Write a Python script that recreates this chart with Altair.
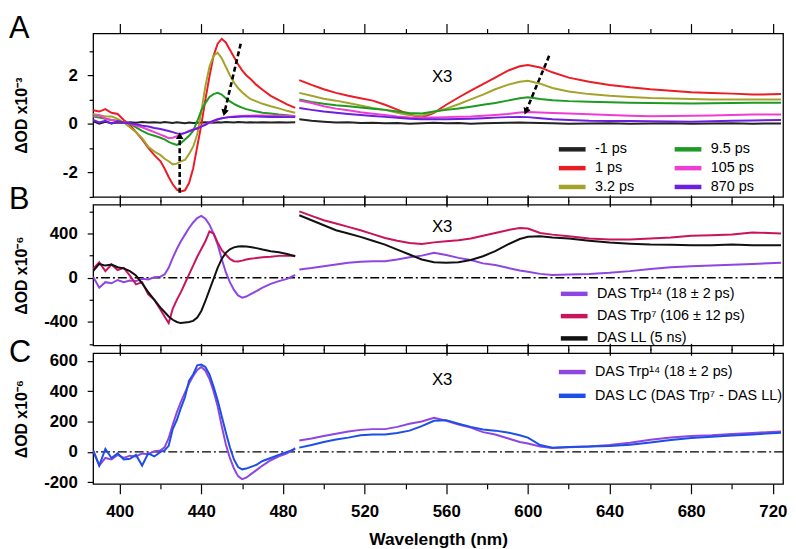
import math
import altair as alt
import pandas as pd

FONT = "Liberation Sans"

# wavelength grids (nm): blue-side segment and x3-scaled red-side segment
WL_L = [387, 390, 393, 396, 399, 402, 405, 408, 411, 414,
        417, 420, 422, 424, 426, 428, 430, 432, 434, 436,
        438, 440, 442, 444, 446, 448, 450, 452, 454, 456,
        458, 460, 462, 464, 467, 470, 474, 478, 482, 486]
WL_R = [488, 494, 500, 506, 512, 518, 524, 530, 536, 542,
        548, 554, 560, 566, 572, 578, 584, 590, 596, 600,
        606, 612, 620, 630, 640, 650, 660, 670, 680, 690,
        700, 710, 724]

# ---- Panel A (x10^-3) ----
A_NAMES = ["-1 ps", "1 ps", "3.2 ps", "9.5 ps", "105 ps", "870 ps"]
A_M1_L = [0.1, 0.0, 0.08, 0.02, 0.05, 0.03, 0.06, 0.04, 0.07, 0.05,
          0.06, 0.04, 0.07, 0.05, 0.03, 0.06, 0.04, 0.02, 0.05, 0.03,
          0.04, 0.05, 0.06, 0.05, 0.04, 0.06, 0.05, 0.07, 0.06, 0.05,
          0.07, 0.06, 0.05, 0.06, 0.05, 0.06, 0.05, 0.06, 0.05, 0.06]
A_M1_R = [0.18, 0.12, 0.08, 0.05, 0.06, 0.03, 0.04, 0.02, 0.03, 0.0,
          0.02, 0.04, 0.02, 0.03, 0.0, 0.02, 0.03, 0.04, 0.05, 0.04,
          0.03, 0.02, 0.0, 0.01, 0.02, 0.0, 0.01, 0.02, 0.0, 0.01,
          0.02, 0.0, 0.01]
A_1_L = [0.55, 0.5, 0.6, 0.45, 0.4, 0.15, -0.05, -0.35, -0.65, -1.0,
         -1.3, -1.55, -1.85, -2.2, -2.5, -2.72, -2.8, -2.75, -2.45, -1.85,
         -0.95, -0.05, 0.99, 1.95, 2.8, 3.3, 3.5, 3.35, 3.05, 2.75,
         2.45, 2.2, 2.0, 1.85, 1.6, 1.4, 1.15, 0.97, 0.8, 0.65]
A_1_R = [1.8, 1.6, 1.42, 1.27, 1.15, 1.05, 0.95, 0.78, 0.58, 0.38,
         0.26, 0.45, 0.78, 1.08, 1.36, 1.63, 1.9, 2.18, 2.37, 2.42,
         2.32, 2.12, 1.9, 1.73, 1.6, 1.5, 1.42, 1.36, 1.3, 1.27,
         1.24, 1.2, 1.22]
A_32_L = [0.4, 0.35, 0.3, 0.3, 0.2, 0.05, -0.15, -0.35, -0.6, -0.95,
          -1.15, -1.3, -1.45, -1.55, -1.68, -1.65, -1.55, -1.5, -1.25, -0.95,
          -0.45, 0.5, 1.55, 2.35, 2.8, 2.93, 2.7, 2.35, 2.0, 1.7,
          1.47, 1.3, 1.15, 1.02, 0.92, 0.82, 0.72, 0.63, 0.53, 0.45]
A_32_R = [1.27, 1.15, 1.03, 0.95, 0.85, 0.75, 0.65, 0.57, 0.45, 0.35,
          0.33, 0.48, 0.62, 0.8, 1.0, 1.2, 1.42, 1.6, 1.73, 1.77,
          1.65, 1.47, 1.33, 1.22, 1.15, 1.1, 1.06, 1.04, 1.02, 1.0,
          1.0, 1.0, 1.0]
A_95_L = [0.3, 0.25, 0.2, 0.15, 0.12, 0.05, 0.0, -0.15, -0.3, -0.42,
          -0.5, -0.58, -0.65, -0.75, -0.82, -0.88, -0.8, -0.65, -0.5, -0.3,
          0.1, 0.55, 0.85, 1.1, 1.22, 1.27, 1.2, 1.05, 0.92, 0.82,
          0.73, 0.66, 0.6, 0.56, 0.5, 0.45, 0.42, 0.38, 0.35, 0.31]
A_95_R = [1.0, 0.9, 0.82, 0.76, 0.72, 0.67, 0.62, 0.57, 0.5, 0.44,
          0.42, 0.5, 0.57, 0.63, 0.7, 0.78, 0.85, 0.95, 1.05, 1.09,
          1.02, 0.97, 0.93, 0.9, 0.88, 0.86, 0.85, 0.84, 0.83, 0.84,
          0.85, 0.86, 0.86]
A_105_L = [0.3, 0.35, 0.2, 0.15, 0.1, 0.05, 0.0, -0.08, -0.15, -0.25,
           -0.35, -0.45, -0.52, -0.6, -0.58, -0.52, -0.45, -0.38, -0.3, -0.24,
           -0.18, -0.1, -0.03, 0.04, 0.1, 0.17, 0.22, 0.25, 0.28, 0.3,
           0.31, 0.32, 0.33, 0.33, 0.34, 0.34, 0.33, 0.33, 0.32, 0.31]
A_105_R = [0.95, 0.85, 0.72, 0.62, 0.55, 0.47, 0.41, 0.36, 0.3, 0.26,
           0.24, 0.25, 0.27, 0.29, 0.3, 0.33, 0.36, 0.4, 0.46, 0.48,
           0.46, 0.44, 0.42, 0.39, 0.36, 0.33, 0.31, 0.32, 0.33, 0.34,
           0.36, 0.38, 0.38]
A_870_L = [0.15, 0.05, 0.12, 0.0, 0.1, 0.05, 0.02, -0.02, -0.08, -0.12,
           -0.18, -0.22, -0.26, -0.3, -0.35, -0.4, -0.42, -0.38, -0.32, -0.25,
           -0.2, -0.12, -0.05, 0.05, 0.12, 0.18, 0.22, 0.25, 0.27, 0.28,
           0.29, 0.3, 0.3, 0.3, 0.3, 0.29, 0.28, 0.28, 0.27, 0.27]
A_870_R = [0.65, 0.57, 0.5, 0.45, 0.4, 0.36, 0.32, 0.28, 0.24, 0.2,
           0.18, 0.18, 0.18, 0.19, 0.2, 0.22, 0.25, 0.27, 0.28, 0.27,
           0.22, 0.18, 0.15, 0.12, 0.11, 0.11, 0.1, 0.09, 0.08, 0.1,
           0.12, 0.13, 0.15]
A_COLORS = ["#222222", "#ec1c24", "#a3a32c", "#1e9a22", "#f03cd4", "#6c1fe0"]

# dashed arrows (panel A)
ARROW_X0 = [429.4, 459.3, 610.4]
ARROW_Y0 = [-2.85, 3.3, 2.8]
ARROW_X1 = [429.4, 451.3, 599.0]
ARROW_Y1 = [-0.5, 0.45, 0.5]

# ---- Panel B (x10^-6) ----
TRP14 = "DAS Trp\u00b9\u2074 (18 \u00b1 2 ps)"
TRP7 = "DAS Trp\u2077 (106 \u00b1 12 ps)"
LL = "DAS LL (5 ns)"
LC = "DAS LC (DAS Trp\u2077 - DAS LL)"
B_TRP14_L = [10, -90, -40, -50, -20, -40, -25, -30, -10, -15,
             5, 10, 30, 90, 180, 260, 330, 390, 450, 500,
             540, 560, 535, 480, 400, 300, 170, 50, -40, -110,
             -160, -180, -170, -150, -120, -90, -55, -30, -10, 25]
B_TRP14_R = [75, 88, 105, 120, 135, 145, 150, 150, 165, 185,
             200, 225, 205, 180, 160, 130, 115, 90, 65, 55,
             35, 25, 30, 35, 45, 60, 80, 95, 105, 110,
             118, 125, 135]
B_TRP7_L = [80, 140, 60, 120, 70, 90, 20, -60, -40, -150,
            -200, -290, -350, -410, -280, -200, -130, -50, 30, 110,
            190, 260, 330, 420, 400, 320, 250, 210, 170, 150,
            148, 155, 165, 172, 178, 185, 190, 198, 200, 200]
B_TRP7_R = [600, 560, 520, 490, 460, 430, 395, 360, 335, 315,
            305, 320, 330, 340, 355, 380, 405, 430, 450, 445,
            405, 390, 375, 355, 345, 345, 355, 365, 380, 385,
            392, 410, 400]
B_LL_L = [60, 125, 110, 120, 95, 85, 60, 20, -50, -130,
          -200, -270, -310, -350, -380, -400, -410, -405, -400, -390,
          -360, -300, -210, -110, -10, 90, 170, 225, 258, 275,
          282, 285, 282, 278, 268, 255, 240, 230, 215, 195]
B_LL_R = [565, 520, 475, 430, 400, 370, 335, 300, 255, 210,
          165, 140, 135, 140, 160, 195, 240, 300, 350, 370,
          375, 365, 355, 335, 318, 308, 300, 298, 295, 295,
          300, 295, 295]
B_COLORS = ["#8e46e2", "#c8145c", "#111111"]

# ---- Panel C (x10^-6) ----
C_LC_L = [10, -90, 20, -40, -10, -50, -45, -20, -90, -10,
          -30, 0, 10, 40, 150, 210, 290, 360, 470, 510,
          570, 575, 560, 510, 430, 340, 235, 130, 30, -50,
          -100, -115, -110, -100, -85, -60, -40, -20, 0, 18]
C_LC_R = [28, 45, 65, 82, 94, 110, 115, 115, 125, 140,
          170, 205, 209, 185, 165, 148, 140, 128, 110, 94,
          45, 28, 32, 35, 39, 47, 62, 78, 92, 100,
          108, 115, 126]
C_COLORS = ["#8e46e2", "#1d4ee6"]

PANEL_LABELS = ["A", "B", "C"]
X3_WL = 558
X3_Y = [1.92, 463, 474]

X_DOMAIN = [387, 725]
W = 697
HA, HB, HC = 165, 142, 132
YA_DOM = [-3.02, 3.72]
YB_DOM = [-611, 660]
YC_DOM = [-211, 650]


def make_df(names, lefts, rights):
    rows = []
    for n, l, r in zip(names, lefts, rights):
        for w, v in zip(WL_L, l):
            rows.append(dict(wl=w, v=v, s=n, seg="L"))
        for w, v in zip(WL_R, r):
            rows.append(dict(wl=w, v=v, s=n, seg="R"))
    return pd.DataFrame(rows)


XS = alt.Scale(domain=X_DOMAIN, nice=False, zero=False)
X_TICKS = list(range(400, 721, 20))
X_MAJOR = "datum.value % 40 === 0"


def x_axis(orient, labels, title=None):
    return alt.Axis(orient=orient, values=X_TICKS,
                    tickSize={"condition": {"test": X_MAJOR, "value": 10}, "value": 5},
                    labels=labels, labelExpr=f"{X_MAJOR} ? '' + datum.value : ''",
                    labelFont=FONT, labelFontSize=17, labelFontWeight="bold",
                    labelColor="black", labelPadding=10, labelOverlap=False,
                    labelFlush=False, grid=False, domain=False,
                    tickColor="black", tickWidth=1.2, title=title,
                    titleFont=FONT, titleFontSize=17.5, titleFontWeight="bold",
                    titleColor="black", titlePadding=11)


def y_axis(values, test, title, h):
    return alt.Axis(values=values,
                    tickSize={"condition": {"test": test, "value": 6}, "value": 4},
                    labelExpr=f"{test} ? '' + datum.value : ''",
                    labelFont=FONT, labelFontSize=17, labelFontWeight="bold",
                    labelColor="black", labelPadding=10, labelOverlap=False,
                    labelFlush=False, grid=False, domain=False,
                    tickColor="black", tickWidth=1.2,
                    title=title, titleX=-72, titleY=h / 2, titleAngle=270,
                    titleBaseline="middle", titleAlign="center",
                    titleFont=FONT, titleFontSize=16, titleFontWeight="bold",
                    titleColor="black")


# a short horizontal stroke drawn wider than its 15 px layout slot
LEGEND_SYMBOL = "M-1.8,0H1.8"


def legend(x, y, row_pad, cols=None, col_pad=0):
    kw = dict(orient="none", legendX=x, legendY=y, title=None,
              symbolType=LEGEND_SYMBOL, symbolSize=225, symbolStrokeWidth=4.5,
              symbolFillColor="transparent",
              labelFont=FONT, labelFontSize=14.5, labelColor="black",
              labelOffset=13, rowPadding=row_pad, padding=0, labelLimit=400)
    if cols:
        kw["columns"] = cols
        kw["columnPadding"] = col_pad
    return alt.Legend(**kw)


def panel(df, ydom, yax, h, color_dom, colors, leg, letter, letter_y,
          x3y, bottom_labels, bottom_title, extra=None, zero=False):
    ys = alt.Scale(domain=ydom, nice=False, zero=False)
    layers = []
    if zero:
        layers.append(alt.Chart(pd.DataFrame({"z": [0]})).mark_rule(
            color="black", strokeWidth=1.4, strokeDash=[9, 3, 2, 3]).encode(
            y=alt.Y("z:Q", scale=ys, axis=yax)))
    layers.append(alt.Chart(df).mark_line(strokeWidth=2, clip=True).encode(
        x=alt.X("wl:Q", scale=XS, axis=x_axis("bottom", bottom_labels, bottom_title)),
        y=alt.Y("v:Q", scale=ys, axis=yax),
        color=alt.Color("s:N", scale=alt.Scale(domain=color_dom, range=colors), legend=leg),
        detail="seg:N"))
    if extra is not None:
        layers.extend(extra(ys, yax))
    layers.append(alt.Chart(pd.DataFrame({"x": [X3_WL], "y": [x3y], "t": ["X3"]})).mark_text(
        font=FONT, fontSize=17, color="black").encode(
        x=alt.X("x:Q", scale=XS, axis=x_axis("top", False)),
        y=alt.Y("y:Q", scale=ys, axis=yax), text="t:N"))
    layers.append(alt.Chart(pd.DataFrame({"t": [letter]})).mark_text(
        font=FONT, fontSize=31, align="left", baseline="alphabetic", color="black").encode(
        x=alt.value(-85), y=alt.value(letter_y), text="t:N"))
    return alt.layer(*layers).resolve_axis(x="independent").properties(width=W, height=h)


dfA = make_df(A_NAMES, [A_M1_L, A_1_L, A_32_L, A_95_L, A_105_L, A_870_L],
              [A_M1_R, A_1_R, A_32_R, A_95_R, A_105_R, A_870_R])
dfB = make_df([TRP14, TRP7, LL], [B_TRP14_L, B_TRP7_L, B_LL_L],
              [B_TRP14_R, B_TRP7_R, B_LL_R])
dfC = make_df([TRP14, LC], [B_TRP14_L, C_LC_L], [B_TRP14_R, C_LC_R])

px_x = W / (X_DOMAIN[1] - X_DOMAIN[0])
px_y = HA / (YA_DOM[1] - YA_DOM[0])
angles = []
for x0, y0, x1, y1 in zip(ARROW_X0, ARROW_Y0, ARROW_X1, ARROW_Y1):
    dx = (x1 - x0) * px_x
    dys = -(y1 - y0) * px_y
    angles.append(math.degrees(math.atan2(dx, -dys)) % 360)
df_arrows = pd.DataFrame({"x0": ARROW_X0, "y0": ARROW_Y0, "x1": ARROW_X1,
                          "y1": ARROW_Y1, "ang": angles})


def arrows(ys, yax):
    rules = alt.Chart(df_arrows).mark_rule(color="black", strokeWidth=2.6,
                                           strokeDash=[5, 3]).encode(
        x=alt.X("x0:Q", scale=XS, axis=None), x2="x1:Q",
        y=alt.Y("y0:Q", scale=ys, axis=yax), y2="y1:Q")
    heads = alt.Chart(df_arrows).mark_point(shape="triangle-up", filled=True,
                                            size=60, color="black", opacity=1).encode(
        x=alt.X("x1:Q", scale=XS, axis=None),
        y=alt.Y("y1:Q", scale=ys, axis=yax),
        angle=alt.Angle("ang:Q", scale=None))
    return [rules, heads]


yA = y_axis([-3, -2, -1, 0, 1, 2, 3], "datum.value % 2 === 0", "\u0394OD x10\u207b\u00b3", HA)
yB = y_axis([-600, -400, -200, 0, 200, 400, 600], "datum.value % 400 === 0",
            "\u0394OD x10\u207b\u2076", HB)
yC = y_axis([-200, 0, 200, 400, 600], "datum.value % 200 === 0",
            "\u0394OD x10\u207b\u2076", HC)

pA = panel(dfA, YA_DOM, yA, HA, A_NAMES, A_COLORS,
           legend(474, 107, -0.5, cols=2, col_pad=31), PANEL_LABELS[0], 5, X3_Y[0],
           False, None, extra=arrows)
pB = panel(dfB, YB_DOM, yB, HB, [TRP14, TRP7, LL], B_COLORS,
           legend(476, 80, 3.5), PANEL_LABELS[1], 4, X3_Y[1], False, None, zero=True)
pC = panel(dfC, YC_DOM, yC, HC, [TRP14, LC], C_COLORS,
           legend(474, 9, 5), PANEL_LABELS[2], 9, X3_Y[2], True,
           "Wavelength (nm)", zero=True)

chart = alt.vconcat(pA, pB, pC, spacing=8, bounds="flush").resolve_scale(
    color="independent", y="independent", x="independent").properties(
    padding={"left": 0, "top": 2, "right": 0, "bottom": 0}).configure_view(
    stroke="black", strokeWidth=1.3)

chart.save("out.html", embed_options={"renderer": "svg", "actions": False})
